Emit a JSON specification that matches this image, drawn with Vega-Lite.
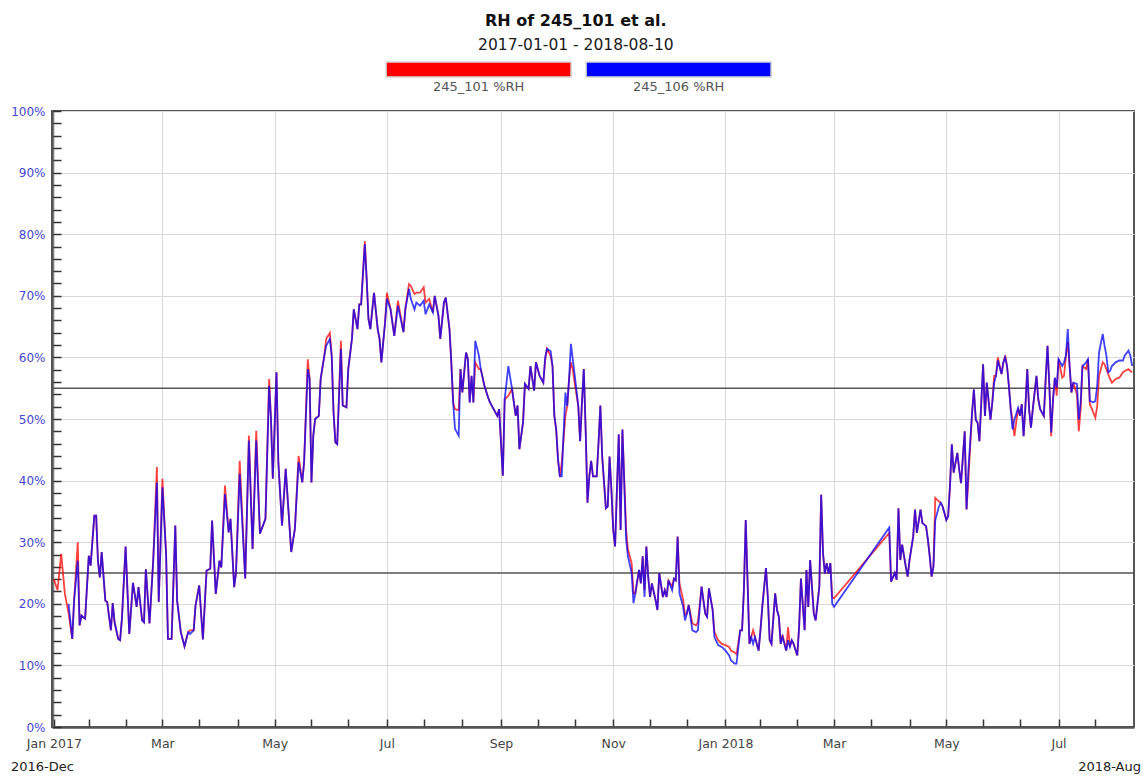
{
  "$schema": "https://vega.github.io/schema/vega-lite/v6.json",
  "background": "white",
  "padding": {"left": 9, "top": 12, "right": 3, "bottom": 3},
  "title": {
    "text": "RH of 245_101 et al.",
    "subtitle": "2017-01-01 - 2018-08-10",
    "anchor": "middle",
    "font": "DejaVu Sans",
    "fontSize": 16,
    "fontWeight": "bold",
    "color": "#111111",
    "subtitleFont": "DejaVu Sans",
    "subtitleFontSize": 15.5,
    "subtitleColor": "#1a1a1a",
    "subtitlePadding": 9,
    "offset": 8
  },
  "config": {
    "view": {"stroke": "#555555", "strokeWidth": 2},
    "font": "DejaVu Sans",
    "concat": {"spacing": 10}
  },
  "center": true,
  "vconcat": [
    {
      "width": 785,
      "height": 15,
      "view": {"stroke": null},
      "data": {"values": [
        {"sensor": "s101", "label": "245_101 %RH"},
        {"sensor": "s106", "label": "245_106 %RH"}
      ]},
      "layer": [
        {
          "mark": {"type": "bar", "stroke": "#d6d6d6", "strokeWidth": 1.5},
          "encoding": {
            "x": {"field": "label", "type": "nominal", "axis": null, "scale": {"paddingInner": 0.075, "paddingOuter": 1, "align": 0.454}},
            "color": {"field": "sensor", "type": "nominal", "scale": {"domain": ["s101", "s106"], "range": ["#ff0000", "#0000ff"]}, "legend": null}
          }
        },
        {
          "mark": {"type": "text", "baseline": "top", "dy": 11, "fontSize": 13, "color": "#555555"},
          "encoding": {
            "x": {"field": "label", "type": "nominal", "axis": null},
            "text": {"field": "label"}
          }
        }
      ]
    },
    {
      "width": 1082,
      "height": 616,
      "layer": [
        {
          "data": {"values": [{"ref": 25}, {"ref": 55}]},
          "mark": {"type": "rule", "color": "#555555", "strokeWidth": 1.6},
          "encoding": {
            "y": {"field": "ref", "type": "quantitative", "scale": {"domain": [0, 100]}, "axis": {"title": null}}
          }
        },
        {
          "data": {"values": [
{"date":"2017-01-01","s101":24,"s106":null},
{"date":"2017-01-03","s101":22.2,"s106":null},
{"date":"2017-01-05","s101":28.1,"s106":null},
{"date":"2017-01-07","s101":21.6,"s106":null},
{"date":"2017-01-09","s101":18.5,"s106":20},
{"date":"2017-01-11","s101":14.3,"s106":14.3},
{"date":"2017-01-12","s101":20.5,"s106":20.5},
{"date":"2017-01-14","s101":30,"s106":27},
{"date":"2017-01-15","s101":16.5,"s106":16.5},
{"date":"2017-01-16","s101":18.1,"s106":18.1},
{"date":"2017-01-18","s101":17.6,"s106":17.6},
{"date":"2017-01-20","s101":27.8,"s106":27.8},
{"date":"2017-01-21","s101":26.2,"s106":26.2},
{"date":"2017-01-23","s101":34.3,"s106":34.3},
{"date":"2017-01-24","s101":34.3,"s106":34.3},
{"date":"2017-01-25","s101":26.8,"s106":26.8},
{"date":"2017-01-26","s101":24.3,"s106":24.3},
{"date":"2017-01-27","s101":28.4,"s106":28.4},
{"date":"2017-01-29","s101":20.5,"s106":20.5},
{"date":"2017-01-30","s101":20.3,"s106":20.3},
{"date":"2017-02-01","s101":15.7,"s106":15.7},
{"date":"2017-02-02","s101":20.1,"s106":20.1},
{"date":"2017-02-03","s101":17,"s106":17},
{"date":"2017-02-05","s101":14.3,"s106":14.3},
{"date":"2017-02-06","s101":14.1,"s106":14.1},
{"date":"2017-02-07","s101":17.6,"s106":17.6},
{"date":"2017-02-09","s101":29.3,"s106":29.3},
{"date":"2017-02-11","s101":15.1,"s106":15.1},
{"date":"2017-02-13","s101":23.4,"s106":23.4},
{"date":"2017-02-15","s101":19.5,"s106":19.5},
{"date":"2017-02-16","s101":22.7,"s106":22.7},
{"date":"2017-02-18","s101":17.3,"s106":17.3},
{"date":"2017-02-19","s101":17,"s106":17},
{"date":"2017-02-20","s101":25.6,"s106":25.6},
{"date":"2017-02-22","s101":16.8,"s106":16.8},
{"date":"2017-02-24","s101":27,"s106":27},
{"date":"2017-02-26","s101":42.2,"s106":39.7},
{"date":"2017-02-27","s101":20.3,"s106":20.3},
{"date":"2017-03-01","s101":40.3,"s106":38.9},
{"date":"2017-03-03","s101":28.1,"s106":28.1},
{"date":"2017-03-04","s101":14.3,"s106":14.3},
{"date":"2017-03-06","s101":14.3,"s106":14.3},
{"date":"2017-03-08","s101":32.7,"s106":32.7},
{"date":"2017-03-09","s101":20.5,"s106":20.5},
{"date":"2017-03-11","s101":15.4,"s106":15.4},
{"date":"2017-03-13","s101":13.1,"s106":13.1},
{"date":"2017-03-15","s101":15.4,"s106":15.4},
{"date":"2017-03-16","s101":15.7,"s106":15.1},
{"date":"2017-03-18","s101":15.7,"s106":15.7},
{"date":"2017-03-19","s101":19.7,"s106":19.7},
{"date":"2017-03-21","s101":23,"s106":23},
{"date":"2017-03-23","s101":14.2,"s106":14.2},
{"date":"2017-03-25","s101":25.4,"s106":25.4},
{"date":"2017-03-27","s101":25.7,"s106":25.7},
{"date":"2017-03-28","s101":33.5,"s106":33.5},
{"date":"2017-03-30","s101":21.6,"s106":21.6},
{"date":"2017-04-01","s101":27,"s106":27},
{"date":"2017-04-02","s101":25.9,"s106":25.9},
{"date":"2017-04-04","s101":39.2,"s106":37.8},
{"date":"2017-04-06","s101":31.6,"s106":31.6},
{"date":"2017-04-07","s101":33.8,"s106":33.8},
{"date":"2017-04-09","s101":22.7,"s106":22.7},
{"date":"2017-04-10","s101":25.1,"s106":25.1},
{"date":"2017-04-12","s101":43.2,"s106":41.1},
{"date":"2017-04-15","s101":24.1,"s106":24.1},
{"date":"2017-04-17","s101":47.3,"s106":46.5},
{"date":"2017-04-19","s101":28.9,"s106":28.9},
{"date":"2017-04-21","s101":48.1,"s106":46.5},
{"date":"2017-04-23","s101":31.4,"s106":31.4},
{"date":"2017-04-26","s101":33.8,"s106":33.8},
{"date":"2017-04-28","s101":56.5,"s106":55.4},
{"date":"2017-04-29","s101":50,"s106":50},
{"date":"2017-04-30","s101":40.3,"s106":40.3},
{"date":"2017-05-02","s101":57.6,"s106":57.6},
{"date":"2017-05-03","s101":43,"s106":43},
{"date":"2017-05-05","s101":32.7,"s106":32.7},
{"date":"2017-05-07","s101":41.9,"s106":41.9},
{"date":"2017-05-10","s101":28.4,"s106":28.4},
{"date":"2017-05-12","s101":32.2,"s106":32.2},
{"date":"2017-05-14","s101":44,"s106":43},
{"date":"2017-05-16","s101":39.7,"s106":39.7},
{"date":"2017-05-17","s101":43,"s106":43},
{"date":"2017-05-19","s101":59.7,"s106":58.1},
{"date":"2017-05-20","s101":56.5,"s106":56.5},
{"date":"2017-05-21","s101":39.7,"s106":39.7},
{"date":"2017-05-22","s101":47.3,"s106":47.3},
{"date":"2017-05-23","s101":50,"s106":50},
{"date":"2017-05-25","s101":50.5,"s106":50.5},
{"date":"2017-05-26","s101":56.5,"s106":56.5},
{"date":"2017-05-28","s101":60.3,"s106":60.3},
{"date":"2017-05-29","s101":63,"s106":61.9},
{"date":"2017-05-31","s101":64,"s106":63},
{"date":"2017-06-01","s101":60.3,"s106":60.3},
{"date":"2017-06-02","s101":51.1,"s106":51.1},
{"date":"2017-06-03","s101":46.2,"s106":46.2},
{"date":"2017-06-04","s101":45.9,"s106":45.9},
{"date":"2017-06-06","s101":62.7,"s106":61.4},
{"date":"2017-06-07","s101":52.2,"s106":52.2},
{"date":"2017-06-09","s101":51.9,"s106":51.9},
{"date":"2017-06-10","s101":58.1,"s106":58.1},
{"date":"2017-06-12","s101":63,"s106":63},
{"date":"2017-06-13","s101":67.8,"s106":67.8},
{"date":"2017-06-15","s101":64.6,"s106":64.6},
{"date":"2017-06-16","s101":68.6,"s106":68.6},
{"date":"2017-06-17","s101":68.6,"s106":68.6},
{"date":"2017-06-19","s101":78.9,"s106":78.4},
{"date":"2017-06-20","s101":72.7,"s106":72.7},
{"date":"2017-06-21","s101":66.2,"s106":66.2},
{"date":"2017-06-22","s101":64.6,"s106":64.6},
{"date":"2017-06-24","s101":70.5,"s106":70.5},
{"date":"2017-06-26","s101":64.6,"s106":64.6},
{"date":"2017-06-27","s101":63,"s106":63},
{"date":"2017-06-28","s101":59.2,"s106":59.2},
{"date":"2017-06-30","s101":65.7,"s106":65.7},
{"date":"2017-07-01","s101":70.5,"s106":69.5},
{"date":"2017-07-03","s101":67.8,"s106":67.8},
{"date":"2017-07-05","s101":63.5,"s106":63.5},
{"date":"2017-07-07","s101":69.2,"s106":68.4},
{"date":"2017-07-10","s101":64.1,"s106":64.1},
{"date":"2017-07-11","s101":67.8,"s106":67.8},
{"date":"2017-07-13","s101":71.9,"s106":71.1},
{"date":"2017-07-14","s101":71.6,"s106":69.5},
{"date":"2017-07-16","s101":70.3,"s106":67.8},
{"date":"2017-07-17","s101":70.5,"s106":68.9},
{"date":"2017-07-19","s101":70.5,"s106":68.4},
{"date":"2017-07-21","s101":71.4,"s106":69.2},
{"date":"2017-07-22","s101":68.9,"s106":67},
{"date":"2017-07-24","s101":69.5,"s106":68.6},
{"date":"2017-07-26","s101":67.3,"s106":67.3},
{"date":"2017-07-27","s101":70,"s106":70},
{"date":"2017-07-29","s101":66.8,"s106":66.8},
{"date":"2017-07-30","s101":63,"s106":63},
{"date":"2017-08-01","s101":68.9,"s106":68.9},
{"date":"2017-08-02","s101":69.7,"s106":69.7},
{"date":"2017-08-04","s101":64.6,"s106":64.6},
{"date":"2017-08-05","s101":59.2,"s106":59.2},
{"date":"2017-08-06","s101":52.7,"s106":52.7},
{"date":"2017-08-07","s101":51.6,"s106":48.4},
{"date":"2017-08-09","s101":51.4,"s106":47.3},
{"date":"2017-08-10","s101":58.1,"s106":58.1},
{"date":"2017-08-11","s101":54.3,"s106":54.3},
{"date":"2017-08-13","s101":60.8,"s106":60.8},
{"date":"2017-08-14","s101":59.7,"s106":59.7},
{"date":"2017-08-15","s101":52.7,"s106":52.7},
{"date":"2017-08-16","s101":57,"s106":57},
{"date":"2017-08-17","s101":52.7,"s106":52.7},
{"date":"2017-08-18","s101":59.2,"s106":62.7},
{"date":"2017-08-20","s101":58.1,"s106":60.3},
{"date":"2017-08-21","s101":58.1,"s106":58.1},
{"date":"2017-08-23","s101":55.4,"s106":55.4},
{"date":"2017-08-25","s101":53.5,"s106":53.5},
{"date":"2017-08-26","s101":52.7,"s106":52.7},
{"date":"2017-08-28","s101":51.6,"s106":51.6},
{"date":"2017-08-30","s101":50.5,"s106":50.5},
{"date":"2017-08-31","s101":51.6,"s106":51.6},
{"date":"2017-09-02","s101":40.8,"s106":40.8},
{"date":"2017-09-03","s101":53.2,"s106":53.2},
{"date":"2017-09-05","s101":53.8,"s106":58.6},
{"date":"2017-09-07","s101":54.9,"s106":54.9},
{"date":"2017-09-08","s101":52.7,"s106":52.7},
{"date":"2017-09-09","s101":50.5,"s106":50.5},
{"date":"2017-09-10","s101":52.2,"s106":52.2},
{"date":"2017-09-11","s101":45.1,"s106":45.1},
{"date":"2017-09-13","s101":49.5,"s106":49.5},
{"date":"2017-09-14","s101":55.7,"s106":55.7},
{"date":"2017-09-16","s101":54.9,"s106":54.9},
{"date":"2017-09-17","s101":58.6,"s106":58.6},
{"date":"2017-09-19","s101":54.6,"s106":54.6},
{"date":"2017-09-20","s101":59.2,"s106":59.2},
{"date":"2017-09-22","s101":57,"s106":57},
{"date":"2017-09-24","s101":55.9,"s106":55.9},
{"date":"2017-09-25","s101":59.5,"s106":60},
{"date":"2017-09-26","s101":61.4,"s106":61.4},
{"date":"2017-09-28","s101":60.2,"s106":61},
{"date":"2017-09-29","s101":58.6,"s106":58.6},
{"date":"2017-09-30","s101":50.5,"s106":50.5},
{"date":"2017-10-01","s101":48.3,"s106":48.3},
{"date":"2017-10-02","s101":43.4,"s106":43.4},
{"date":"2017-10-03","s101":40.7,"s106":40.7},
{"date":"2017-10-04","s101":42.9,"s106":40.7},
{"date":"2017-10-06","s101":50.5,"s106":54.3},
{"date":"2017-10-07","s101":52.1,"s106":52.1},
{"date":"2017-10-08","s101":56.5,"s106":56.5},
{"date":"2017-10-09","s101":59.2,"s106":62.2},
{"date":"2017-10-10","s101":58.1,"s106":59.7},
{"date":"2017-10-11","s101":55.9,"s106":57.3},
{"date":"2017-10-13","s101":52.1,"s106":52.1},
{"date":"2017-10-14","s101":46.4,"s106":46.4},
{"date":"2017-10-15","s101":52.7,"s106":52.7},
{"date":"2017-10-16","s101":58.1,"s106":58.1},
{"date":"2017-10-17","s101":48.3,"s106":48.3},
{"date":"2017-10-18","s101":36.4,"s106":36.4},
{"date":"2017-10-19","s101":40.7,"s106":40.7},
{"date":"2017-10-20","s101":43.2,"s106":43.2},
{"date":"2017-10-21","s101":40.7,"s106":40.7},
{"date":"2017-10-23","s101":40.7,"s106":40.7},
{"date":"2017-10-24","s101":46.1,"s106":46.1},
{"date":"2017-10-25","s101":52.2,"s106":52.2},
{"date":"2017-10-26","s101":43.9,"s106":43.9},
{"date":"2017-10-28","s101":35.5,"s106":35.5},
{"date":"2017-10-29","s101":35.8,"s106":35.8},
{"date":"2017-10-30","s101":43.9,"s106":43.9},
{"date":"2017-10-31","s101":38.5,"s106":38.5},
{"date":"2017-11-01","s101":32,"s106":32},
{"date":"2017-11-02","s101":29.3,"s106":29.3},
{"date":"2017-11-03","s101":38.5,"s106":38.5},
{"date":"2017-11-04","s101":47.5,"s106":47.5},
{"date":"2017-11-05","s101":32,"s106":32},
{"date":"2017-11-06","s101":48.3,"s106":48.3},
{"date":"2017-11-08","s101":32,"s106":30.4},
{"date":"2017-11-09","s101":28.8,"s106":27.7},
{"date":"2017-11-11","s101":26.6,"s106":25},
{"date":"2017-11-12","s101":21.7,"s106":20.1},
{"date":"2017-11-13","s101":21.7,"s106":21.7},
{"date":"2017-11-15","s101":25.5,"s106":25.5},
{"date":"2017-11-16","s101":23.3,"s106":23.3},
{"date":"2017-11-17","s101":27.7,"s106":27.7},
{"date":"2017-11-18","s101":22.2,"s106":21.1},
{"date":"2017-11-19","s101":29.3,"s106":29.3},
{"date":"2017-11-20","s101":24.4,"s106":24.4},
{"date":"2017-11-21","s101":21.1,"s106":21.1},
{"date":"2017-11-22","s101":23.3,"s106":23.3},
{"date":"2017-11-24","s101":20.6,"s106":20.6},
{"date":"2017-11-25","s101":19,"s106":19},
{"date":"2017-11-26","s101":25,"s106":25},
{"date":"2017-11-28","s101":21.1,"s106":21.1},
{"date":"2017-11-29","s101":22.2,"s106":22.2},
{"date":"2017-11-30","s101":21.1,"s106":21.1},
{"date":"2017-12-01","s101":23.8,"s106":23.8},
{"date":"2017-12-03","s101":22.8,"s106":22.2},
{"date":"2017-12-04","s101":24.1,"s106":24.1},
{"date":"2017-12-05","s101":23.8,"s106":23.8},
{"date":"2017-12-06","s101":30.9,"s106":30.9},
{"date":"2017-12-07","s101":23.3,"s106":21.7},
{"date":"2017-12-09","s101":20.6,"s106":19.5},
{"date":"2017-12-10","s101":18.2,"s106":17.3},
{"date":"2017-12-11","s101":18.4,"s106":18.4},
{"date":"2017-12-12","s101":19.8,"s106":19.8},
{"date":"2017-12-14","s101":16.8,"s106":15.7},
{"date":"2017-12-16","s101":16.5,"s106":15.4},
{"date":"2017-12-17","s101":17,"s106":15.7},
{"date":"2017-12-19","s101":22.8,"s106":22.8},
{"date":"2017-12-21","s101":18.4,"s106":18.4},
{"date":"2017-12-22","s101":17.9,"s106":17.9},
{"date":"2017-12-23","s101":22.5,"s106":22.5},
{"date":"2017-12-25","s101":19,"s106":19},
{"date":"2017-12-26","s101":15.4,"s106":14.6},
{"date":"2017-12-28","s101":14.1,"s106":13.3},
{"date":"2017-12-30","s101":13.5,"s106":13},
{"date":"2018-01-01","s101":13.3,"s106":12.4},
{"date":"2018-01-03","s101":13,"s106":11.6},
{"date":"2018-01-04","s101":12.4,"s106":10.8},
{"date":"2018-01-06","s101":12.1,"s106":10.3},
{"date":"2018-01-07","s101":11.8,"s106":10.3},
{"date":"2018-01-09","s101":15.7,"s106":15.7},
{"date":"2018-01-10","s101":15.7,"s106":15.7},
{"date":"2018-01-11","s101":22.2,"s106":22.2},
{"date":"2018-01-12","s101":33.6,"s106":33.6},
{"date":"2018-01-14","s101":13.5,"s106":13.5},
{"date":"2018-01-15","s101":14.6,"s106":14.6},
{"date":"2018-01-16","s101":15.7,"s106":13.5},
{"date":"2018-01-17","s101":14.6,"s106":14.6},
{"date":"2018-01-19","s101":12.4,"s106":12.4},
{"date":"2018-01-20","s101":15.7,"s106":15.7},
{"date":"2018-01-21","s101":19.5,"s106":19.5},
{"date":"2018-01-23","s101":25.8,"s106":25.8},
{"date":"2018-01-24","s101":21.1,"s106":21.1},
{"date":"2018-01-25","s101":14.1,"s106":14.1},
{"date":"2018-01-26","s101":13.5,"s106":13.5},
{"date":"2018-01-28","s101":21.7,"s106":21.7},
{"date":"2018-01-29","s101":19,"s106":19},
{"date":"2018-01-30","s101":17.9,"s106":17.9},
{"date":"2018-01-31","s101":13.5,"s106":13.5},
{"date":"2018-02-01","s101":15,"s106":14.6},
{"date":"2018-02-03","s101":12.4,"s106":12.4},
{"date":"2018-02-04","s101":16.2,"s106":14.1},
{"date":"2018-02-05","s101":13,"s106":13},
{"date":"2018-02-06","s101":14.1,"s106":14.1},
{"date":"2018-02-07","s101":13.5,"s106":13.5},
{"date":"2018-02-09","s101":11.6,"s106":11.6},
{"date":"2018-02-10","s101":16.2,"s106":16.2},
{"date":"2018-02-11","s101":24.1,"s106":24.1},
{"date":"2018-02-13","s101":15.7,"s106":15.7},
{"date":"2018-02-14","s101":25.5,"s106":25.5},
{"date":"2018-02-15","s101":19.5,"s106":19.5},
{"date":"2018-02-16","s101":27.1,"s106":27.1},
{"date":"2018-02-18","s101":18.4,"s106":18.4},
{"date":"2018-02-19","s101":17.3,"s106":17.3},
{"date":"2018-02-21","s101":22.8,"s106":22.8},
{"date":"2018-02-22","s101":37.7,"s106":37.7},
{"date":"2018-02-23","s101":28.2,"s106":28.2},
{"date":"2018-02-24","s101":24.9,"s106":24.9},
{"date":"2018-02-25","s101":26.6,"s106":26.6},
{"date":"2018-02-26","s101":24.9,"s106":24.9},
{"date":"2018-02-27","s101":26.6,"s106":26.6},
{"date":"2018-02-28","s101":21.1,"s106":20},
{"date":"2018-03-01","s101":20.9,"s106":19.5},
{"date":"2018-03-31","s101":31.5,"s106":32.4},
{"date":"2018-04-01","s101":23.6,"s106":23.6},
{"date":"2018-04-03","s101":25,"s106":25},
{"date":"2018-04-04","s101":23.9,"s106":23.9},
{"date":"2018-04-05","s101":35.5,"s106":35.5},
{"date":"2018-04-06","s101":27.1,"s106":27.1},
{"date":"2018-04-07","s101":29.6,"s106":29.6},
{"date":"2018-04-09","s101":26,"s106":26},
{"date":"2018-04-10","s101":24.4,"s106":24.4},
{"date":"2018-04-11","s101":27.1,"s106":27.1},
{"date":"2018-04-13","s101":30.9,"s106":30.9},
{"date":"2018-04-14","s101":35.3,"s106":35.3},
{"date":"2018-04-15","s101":31.5,"s106":31.5},
{"date":"2018-04-17","s101":35.3,"s106":35.3},
{"date":"2018-04-18","s101":33.1,"s106":33.1},
{"date":"2018-04-20","s101":32.6,"s106":32.6},
{"date":"2018-04-21","s101":30.4,"s106":30.4},
{"date":"2018-04-22","s101":27.7,"s106":27.7},
{"date":"2018-04-23","s101":24.4,"s106":24.4},
{"date":"2018-04-24","s101":26,"s106":26},
{"date":"2018-04-25","s101":37.2,"s106":33.6},
{"date":"2018-04-27","s101":36.6,"s106":35.8},
{"date":"2018-04-28","s101":36.4,"s106":36.4},
{"date":"2018-04-29","s101":35.8,"s106":35.8},
{"date":"2018-05-01","s101":33.6,"s106":33.6},
{"date":"2018-05-02","s101":34.2,"s106":34.2},
{"date":"2018-05-03","s101":39.1,"s106":39.1},
{"date":"2018-05-04","s101":45.9,"s106":45.9},
{"date":"2018-05-05","s101":41.3,"s106":41.3},
{"date":"2018-05-07","s101":44.5,"s106":44.5},
{"date":"2018-05-08","s101":41.8,"s106":41.8},
{"date":"2018-05-09","s101":39.6,"s106":39.6},
{"date":"2018-05-11","s101":48,"s106":48},
{"date":"2018-05-12","s101":35.3,"s106":35.3},
{"date":"2018-05-13","s101":40.2,"s106":41.8},
{"date":"2018-05-15","s101":51,"s106":51},
{"date":"2018-05-16","s101":54.8,"s106":54.8},
{"date":"2018-05-17","s101":49.9,"s106":49.9},
{"date":"2018-05-18","s101":49.4,"s106":49.4},
{"date":"2018-05-19","s101":46.4,"s106":46.4},
{"date":"2018-05-21","s101":58.9,"s106":58.9},
{"date":"2018-05-22","s101":50.5,"s106":50.5},
{"date":"2018-05-23","s101":55.9,"s106":55.9},
{"date":"2018-05-25","s101":49.9,"s106":49.9},
{"date":"2018-05-26","s101":52.7,"s106":52.7},
{"date":"2018-05-27","s101":57,"s106":55.9},
{"date":"2018-05-28","s101":57,"s106":57},
{"date":"2018-05-29","s101":60,"s106":59.5},
{"date":"2018-05-31","s101":57.3,"s106":57.3},
{"date":"2018-06-01","s101":59.2,"s106":59.2},
{"date":"2018-06-02","s101":60.3,"s106":60},
{"date":"2018-06-03","s101":58.6,"s106":58.6},
{"date":"2018-06-04","s101":55.4,"s106":55.4},
{"date":"2018-06-05","s101":51.6,"s106":51.6},
{"date":"2018-06-06","s101":49.9,"s106":48.3},
{"date":"2018-06-07","s101":47.2,"s106":49.9},
{"date":"2018-06-09","s101":51.8,"s106":51.8},
{"date":"2018-06-10","s101":50.5,"s106":50.5},
{"date":"2018-06-11","s101":52.4,"s106":52.4},
{"date":"2018-06-12","s101":47.2,"s106":47.2},
{"date":"2018-06-13","s101":52.1,"s106":52.1},
{"date":"2018-06-14","s101":58.1,"s106":58.1},
{"date":"2018-06-15","s101":51.6,"s106":51.6},
{"date":"2018-06-16","s101":48.6,"s106":48.6},
{"date":"2018-06-17","s101":51.6,"s106":51.6},
{"date":"2018-06-19","s101":57,"s106":57},
{"date":"2018-06-20","s101":53.2,"s106":53.2},
{"date":"2018-06-21","s101":51.6,"s106":51.6},
{"date":"2018-06-23","s101":50.5,"s106":50.5},
{"date":"2018-06-24","s101":56.5,"s106":56.5},
{"date":"2018-06-25","s101":61.9,"s106":61.9},
{"date":"2018-06-26","s101":55.4,"s106":55.4},
{"date":"2018-06-27","s101":47.2,"s106":47.8},
{"date":"2018-06-28","s101":53.2,"s106":53.2},
{"date":"2018-06-29","s101":56.7,"s106":56.7},
{"date":"2018-06-30","s101":53.8,"s106":55.1},
{"date":"2018-07-01","s101":59.7,"s106":59.7},
{"date":"2018-07-03","s101":56.7,"s106":58.6},
{"date":"2018-07-04","s101":57,"s106":59.2},
{"date":"2018-07-05","s101":60.3,"s106":60.3},
{"date":"2018-07-06","s101":62.5,"s106":64.6},
{"date":"2018-07-07","s101":58.6,"s106":58.6},
{"date":"2018-07-08","s101":54.3,"s106":54.3},
{"date":"2018-07-09","s101":55.9,"s106":55.9},
{"date":"2018-07-11","s101":54,"s106":55.7},
{"date":"2018-07-12","s101":48,"s106":49.9},
{"date":"2018-07-13","s101":51.6,"s106":52.7},
{"date":"2018-07-14","s101":58.6,"s106":58.6},
{"date":"2018-07-16","s101":58.1,"s106":59.2},
{"date":"2018-07-17","s101":59.7,"s106":59.7},
{"date":"2018-07-18","s101":52.4,"s106":52.9},
{"date":"2018-07-20","s101":51,"s106":52.7},
{"date":"2018-07-21","s101":50.2,"s106":52.9},
{"date":"2018-07-22","s101":52.1,"s106":55.4},
{"date":"2018-07-23","s101":57,"s106":60.8},
{"date":"2018-07-25","s101":59.2,"s106":63.8},
{"date":"2018-07-26","s101":58.9,"s106":61.9},
{"date":"2018-07-27","s101":58.1,"s106":60.3},
{"date":"2018-07-28","s101":57.3,"s106":57.6},
{"date":"2018-07-29","s101":56.5,"s106":57.8},
{"date":"2018-07-30","s101":55.9,"s106":58.6},
{"date":"2018-08-01","s101":56.5,"s106":59.2},
{"date":"2018-08-03","s101":56.7,"s106":59.5},
{"date":"2018-08-05","s101":57.6,"s106":59.5},
{"date":"2018-08-06","s101":57.8,"s106":60.3},
{"date":"2018-08-08","s101":58.1,"s106":61.1},
{"date":"2018-08-09","s101":57.8,"s106":60.3},
{"date":"2018-08-10","s101":57.6,"s106":58.6}
          ]},
          "transform": [{"fold": ["s101", "s106"], "as": ["sensor", "rh"]}],
          "mark": {"type": "line", "strokeWidth": 1.8, "opacity": 0.75},
          "encoding": {
            "x": {
              "field": "date",
              "type": "temporal",
              "scale": {"type": "utc", "domain": [{"year": 2016, "month": 12, "date": 31, "utc": true}, {"year": 2018, "month": 8, "date": 11, "utc": true}]},
              "axis": {
                "title": null,
                "tickCount": 200,
                "values": [
                  {"year": 2017, "month": 1, "date": 1, "utc": true},
                  {"year": 2017, "month": 1, "date": 20, "utc": true},
                  {"year": 2017, "month": 2, "date": 9, "utc": true},
                  {"year": 2017, "month": 3, "date": 1, "utc": true},
                  {"year": 2017, "month": 3, "date": 21, "utc": true},
                  {"year": 2017, "month": 4, "date": 11, "utc": true},
                  {"year": 2017, "month": 5, "date": 1, "utc": true},
                  {"year": 2017, "month": 5, "date": 21, "utc": true},
                  {"year": 2017, "month": 6, "date": 10, "utc": true},
                  {"year": 2017, "month": 7, "date": 1, "utc": true},
                  {"year": 2017, "month": 7, "date": 21, "utc": true},
                  {"year": 2017, "month": 8, "date": 11, "utc": true},
                  {"year": 2017, "month": 9, "date": 1, "utc": true},
                  {"year": 2017, "month": 9, "date": 21, "utc": true},
                  {"year": 2017, "month": 10, "date": 11, "utc": true},
                  {"year": 2017, "month": 11, "date": 1, "utc": true},
                  {"year": 2017, "month": 11, "date": 21, "utc": true},
                  {"year": 2017, "month": 12, "date": 11, "utc": true},
                  {"year": 2018, "month": 1, "date": 1, "utc": true},
                  {"year": 2018, "month": 1, "date": 20, "utc": true},
                  {"year": 2018, "month": 2, "date": 9, "utc": true},
                  {"year": 2018, "month": 3, "date": 1, "utc": true},
                  {"year": 2018, "month": 3, "date": 21, "utc": true},
                  {"year": 2018, "month": 4, "date": 11, "utc": true},
                  {"year": 2018, "month": 5, "date": 1, "utc": true},
                  {"year": 2018, "month": 5, "date": 21, "utc": true},
                  {"year": 2018, "month": 6, "date": 10, "utc": true},
                  {"year": 2018, "month": 7, "date": 1, "utc": true},
                  {"year": 2018, "month": 7, "date": 21, "utc": true}
                ],
                "labelExpr": "utcdate(datum.value) == 1 && utcmonth(datum.value) % 2 == 0 ? (utcmonth(datum.value) == 0 ? utcFormat(datum.value, '%b %Y') : utcFormat(datum.value, '%b')) : ''",
                "labelFlush": false,
                "labelOverlap": false,
                "labelFontSize": 12.5,
                "labelColor": "#444444",
                "labelPadding": 18,
                "tickSize": -8,
                "tickColor": "#333333",
                "tickWidth": 1.5,
                "domainColor": "#555555",
                "domainWidth": 2.5,
                "grid": true,
                "gridColor": "#d9d9d9",
                "gridOpacity": {"condition": {"test": "utcdate(datum.value) != 1", "value": 0}, "value": 1}
              }
            },
            "y": {
              "field": "rh",
              "type": "quantitative",
              "scale": {"domain": [0, 100]},
              "axis": {
                "title": null,
                "tickCount": 200,
                "values": [0,2,4,6,8,10,12,14,16,18,20,22,24,26,28,30,32,34,36,38,40,42,44,46,48,50,52,54,56,58,60,62,64,66,68,70,72,74,76,78,80,82,84,86,88,90,92,94,96,98,100],
                "labelExpr": "datum.value % 10 == 0 ? datum.value + '%' : ''",
                "labelOverlap": false,
                "labelFontSize": 12,
                "labelColor": "#4646d6",
                "labelPadding": 16,
                "tickSize": -9,
                "tickColor": "#333333",
                "tickWidth": 1.5,
                "domainColor": "#555555",
                "domainWidth": 2.5,
                "grid": true,
                "gridColor": "#d9d9d9",
                "gridOpacity": {"condition": {"test": "datum.value % 10 != 0", "value": 0}, "value": 1}
              }
            },
            "color": {"field": "sensor", "type": "nominal", "legend": null}
          }
        },
        {
          "data": {"values": [{"date": "2016-12-31", "label": "2016-Dec"}]},
          "mark": {"type": "text", "align": "left", "baseline": "alphabetic", "dx": -41, "dy": 44, "fontSize": 13, "color": "#222222"},
          "encoding": {
            "x": {"field": "date", "type": "temporal", "axis": {"title": null}},
            "y": {"value": "height"},
            "text": {"field": "label"}
          }
        },
        {
          "data": {"values": [{"date": "2018-08-11", "label": "2018-Aug"}]},
          "mark": {"type": "text", "align": "right", "baseline": "alphabetic", "dx": 7, "dy": 44, "fontSize": 13, "color": "#222222"},
          "encoding": {
            "x": {"field": "date", "type": "temporal", "axis": {"title": null}},
            "y": {"value": "height"},
            "text": {"field": "label"}
          }
        }
      ]
    }
  ]
}
